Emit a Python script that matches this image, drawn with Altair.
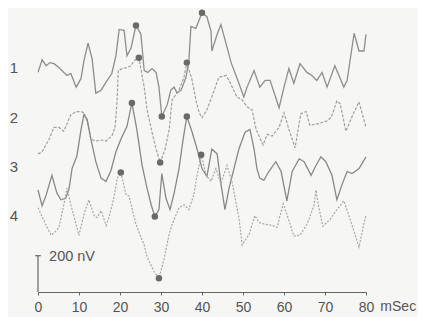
import altair as alt
import pandas as pd

# time in ms, amplitude in nV (stacked display offsets included)
t1 = [0, 1.0, 2.0, 2.9, 3.9, 5.1, 6.3, 7.1, 8.0, 9.3, 10.5, 11.2, 12.2, 13.2, 14.1, 15.4, 16.6, 18.0, 19.0, 19.8,
      21.0, 21.7, 22.7, 23.9, 25.1, 25.9, 26.8, 27.8, 28.8, 29.5, 30.2, 31.5, 32.4, 33.2, 33.9, 34.9, 36.1, 36.8,
      37.3, 38.5, 40.0, 41.2, 42.2, 42.4, 43.7, 44.6, 45.9, 47.1, 49.0, 50.2, 51.0, 52.7, 54.1, 55.4, 56.6, 58.8,
      60.0, 61.2, 62.4, 63.9, 65.6, 66.8, 68.0, 69.3, 70.5, 72.4, 74.6, 75.4, 77.1, 78.3, 79.5, 80.0]
v1 = [1210, 1280, 1247, 1264, 1258, 1237, 1210, 1193, 1204, 1129, 1177, 1274, 1372, 1285, 1096, 1112, 1156, 1204, 1301, 1447,
      1442, 1301, 1345, 1469, 1420, 1220, 1210, 1231, 1210, 1129, 967, 1031, 1112, 1129, 1096, 1112, 1183, 1274,
      1463, 1453, 1539, 1517, 1436, 1328, 1420, 1474, 1366, 1264, 1150, 1075, 1129, 1220, 1129, 1166, 1166, 1015,
      1129, 1231, 1150, 1258, 1210, 1193, 1166, 1210, 1129, 1247, 1129, 1166, 1426, 1328, 1328, 1420]

t2 = [0, 1.0, 2.7, 3.9, 5.1, 6.3, 8.0, 9.3, 10.5, 11.2, 12.0, 12.9, 14.1, 15.4, 16.6, 18.0, 18.8, 19.3, 19.6, 20.5,
      21.7, 22.7, 23.4, 24.6, 25.9, 26.6, 27.8, 28.8, 29.8, 31.0, 32.0, 32.7, 34.4, 35.6, 36.3, 37.6, 38.5, 39.3,
      40.0, 41.2, 42.4, 44.1, 45.9, 46.6, 48.5, 49.8, 51.0, 52.2, 53.2, 54.9, 55.9, 57.1, 58.8, 60.0, 61.2, 62.7,
      64.1, 65.4, 66.3, 68.5, 70.2, 71.5, 72.9, 73.7, 75.1, 76.6, 78.3, 80.0]
v2 = [761, 772, 842, 907, 907, 886, 977, 994, 994, 988, 940, 842, 832, 837, 832, 859, 907, 1058, 1220, 1231,
      1237, 1247, 1274, 1291, 1129, 1004, 880, 788, 713, 788, 896, 1058, 1112, 1183, 1264, 1166, 1058, 988,
      961, 1004, 1075, 1183, 1193, 1166, 1075, 1058, 1021, 1004, 896, 810, 869, 859, 907, 988, 896, 794,
      983, 994, 918, 929, 940, 961, 1053, 1037, 886, 967, 1048, 907]

t3 = [0, 1.0, 2.0, 3.4, 4.6, 5.6, 6.8, 7.6, 8.3, 9.5, 10.5, 11.2, 12.0, 12.9, 14.1, 15.4, 16.6, 17.8, 19.0, 20.2,
      21.7, 22.9, 24.1, 25.4, 26.6, 27.6, 28.5, 29.5, 30.2, 31.2, 32.2, 33.2, 34.4, 35.4, 36.3, 37.6, 38.8, 40.0,
      41.2, 42.4, 43.7, 44.6, 45.6, 46.6, 47.8, 49.0, 50.5, 51.7, 52.7, 53.4, 54.1, 55.1, 56.3, 58.0, 59.3, 60.7,
      62.0, 63.7, 64.9, 66.6, 67.8, 69.0, 70.2, 71.7, 72.9, 74.1, 75.4, 76.6, 78.3, 80.0]
v3 = [562, 475, 535, 643, 545, 508, 518, 572, 680, 751, 896, 977, 950, 842, 718, 626, 610, 670, 772, 842,
      913, 1042, 896, 697, 572, 481, 416, 454, 653, 518, 454, 545, 680, 842, 967, 880, 788, 680,
      637, 788, 761, 599, 454, 572, 680, 788, 880, 896, 788, 680, 626, 616, 664, 718, 664, 502,
      664, 734, 718, 643, 697, 745, 718, 643, 508, 589, 664, 653, 680, 745]

t4 = [0, 2.0, 3.2, 4.1, 5.1, 6.3, 7.1, 8.0, 9.3, 10.0, 11.2, 12.4, 13.7, 14.4, 15.4, 16.6, 17.3, 18.5, 19.3, 20.2,
      21.5, 22.2, 22.9, 23.9, 25.1, 25.9, 26.6, 28.3, 29.5, 30.7, 32.0, 32.7, 34.4, 35.6, 36.8, 38.0, 38.8, 39.8,
      41.0, 42.2, 43.4, 44.6, 46.1, 47.3, 49.0, 49.8, 51.5, 52.9, 53.9, 55.4, 57.1, 58.3, 59.8, 61.2, 62.4, 63.9,
      65.6, 67.3, 67.8, 68.5, 69.5, 71.2, 72.9, 74.6, 75.9, 78.3, 79.5, 80.0]
v4 = [464, 367, 313, 329, 356, 481, 572, 481, 373, 313, 427, 508, 421, 410, 448, 367, 410, 518, 626, 659,
      535, 529, 464, 373, 302, 259, 194, 113, 76, 178, 319, 373, 464, 481, 454, 535, 643, 756,
      643, 610, 680, 599, 697, 610, 410, 259, 319, 421, 383, 373, 367, 356, 486, 394, 308, 313,
      373, 475, 562, 464, 362, 400, 454, 502, 416, 248, 378, 421]

# marked peaks / troughs
dot_t = [23.9, 30.2, 40.0, 24.6, 29.8, 36.3, 22.9, 28.5, 36.3, 20.2, 29.5, 39.8]
dot_v = [1469, 967, 1539, 1291, 713, 1264, 1042, 416, 967, 659, 76, 756]

trace_names = ["1", "2", "3", "4"]
trace_label_v = [1237, 961, 691, 421]
x_ticks = [0, 10, 20, 30, 40, 50, 60, 70, 80]

FONT = "Liberation Sans"
xs = alt.Scale(domain=[0, 80], nice=False, zero=False)
ys = alt.Scale(domain=[0, 1565], nice=False, zero=False)

styles = [
    dict(color="#8e8e8e", strokeWidth=1.3),
    dict(color="#a0a0a0", strokeWidth=1.2, strokeDash=[3, 1.5]),
    dict(color="#888888", strokeWidth=1.3),
    dict(color="#a6a6a6", strokeWidth=1.2, strokeDash=[2, 1.5]),
]

layers = []
for i, (tt, vv) in enumerate([(t1, v1), (t2, v2), (t3, v3), (t4, v4)]):
    df = pd.DataFrame({"t": tt, "v": vv})
    enc_x = alt.X("t:Q", scale=xs,
                  axis=alt.Axis(values=x_ticks, tickSize=3, labelPadding=5, labelFontSize=14,
                                labelColor="#555", labelFont=FONT, domainColor="#666", tickColor="#666",
                                domainWidth=1.2, grid=False, title=None, labelFlush=False)) if i == 0 else alt.X("t:Q", scale=xs)
    layers.append(alt.Chart(df).mark_line(**styles[i]).encode(
        x=enc_x, y=alt.Y("v:Q", scale=ys, axis=None)))

dots = alt.Chart(pd.DataFrame({"t": dot_t, "v": dot_v})).mark_circle(
    size=42, color="#6a6a6a", opacity=1).encode(x=alt.X("t:Q", scale=xs), y=alt.Y("v:Q", scale=ys))

labels = alt.Chart(pd.DataFrame({"name": trace_names, "v": trace_label_v})).mark_text(
    font=FONT, fontSize=15, color="#555", align="center", baseline="middle").encode(
    x=alt.value(-24), y=alt.Y("v:Q", scale=ys), text="name:N")

bar = alt.Chart(pd.DataFrame({"t": [0], "v": [0], "v2": [200]})).mark_rule(
    color="#666", strokeWidth=1.2).encode(x=alt.X("t:Q", scale=xs), y=alt.Y("v:Q", scale=ys), y2="v2:Q")
bar_cap = alt.Chart(pd.DataFrame({"t": [-0.7], "t2": [0.7], "v": [200]})).mark_rule(
    color="#666", strokeWidth=1.2).encode(x=alt.X("t:Q", scale=xs), x2="t2:Q", y=alt.Y("v:Q", scale=ys))
bar_text = alt.Chart(pd.DataFrame({"t": [2.7], "v": [194], "s": ["200 nV"]})).mark_text(
    font=FONT, fontSize=14.5, color="#555", align="left", baseline="middle").encode(
    x=alt.X("t:Q", scale=xs), y=alt.Y("v:Q", scale=ys), text="s:N")
unit = alt.Chart(pd.DataFrame({"t": [83.5], "v": [-83], "s": ["mSec"]})).mark_text(
    font=FONT, fontSize=14, color="#555", align="left", baseline="middle").encode(
    x=alt.X("t:Q", scale=xs), y=alt.Y("v:Q", scale=ys), text="s:N")

chart = alt.layer(*layers, dots, labels, bar, bar_cap, bar_text, unit).properties(
    width=328, height=284,
    autosize=alt.AutoSizeParams(type="none"),
    padding={"left": 30, "top": 0, "right": 52, "bottom": 25},
    background="#f6f6f4",
).configure_view(strokeWidth=0)

chart.save("out.html", embed_options={"renderer": "svg", "actions": False})
